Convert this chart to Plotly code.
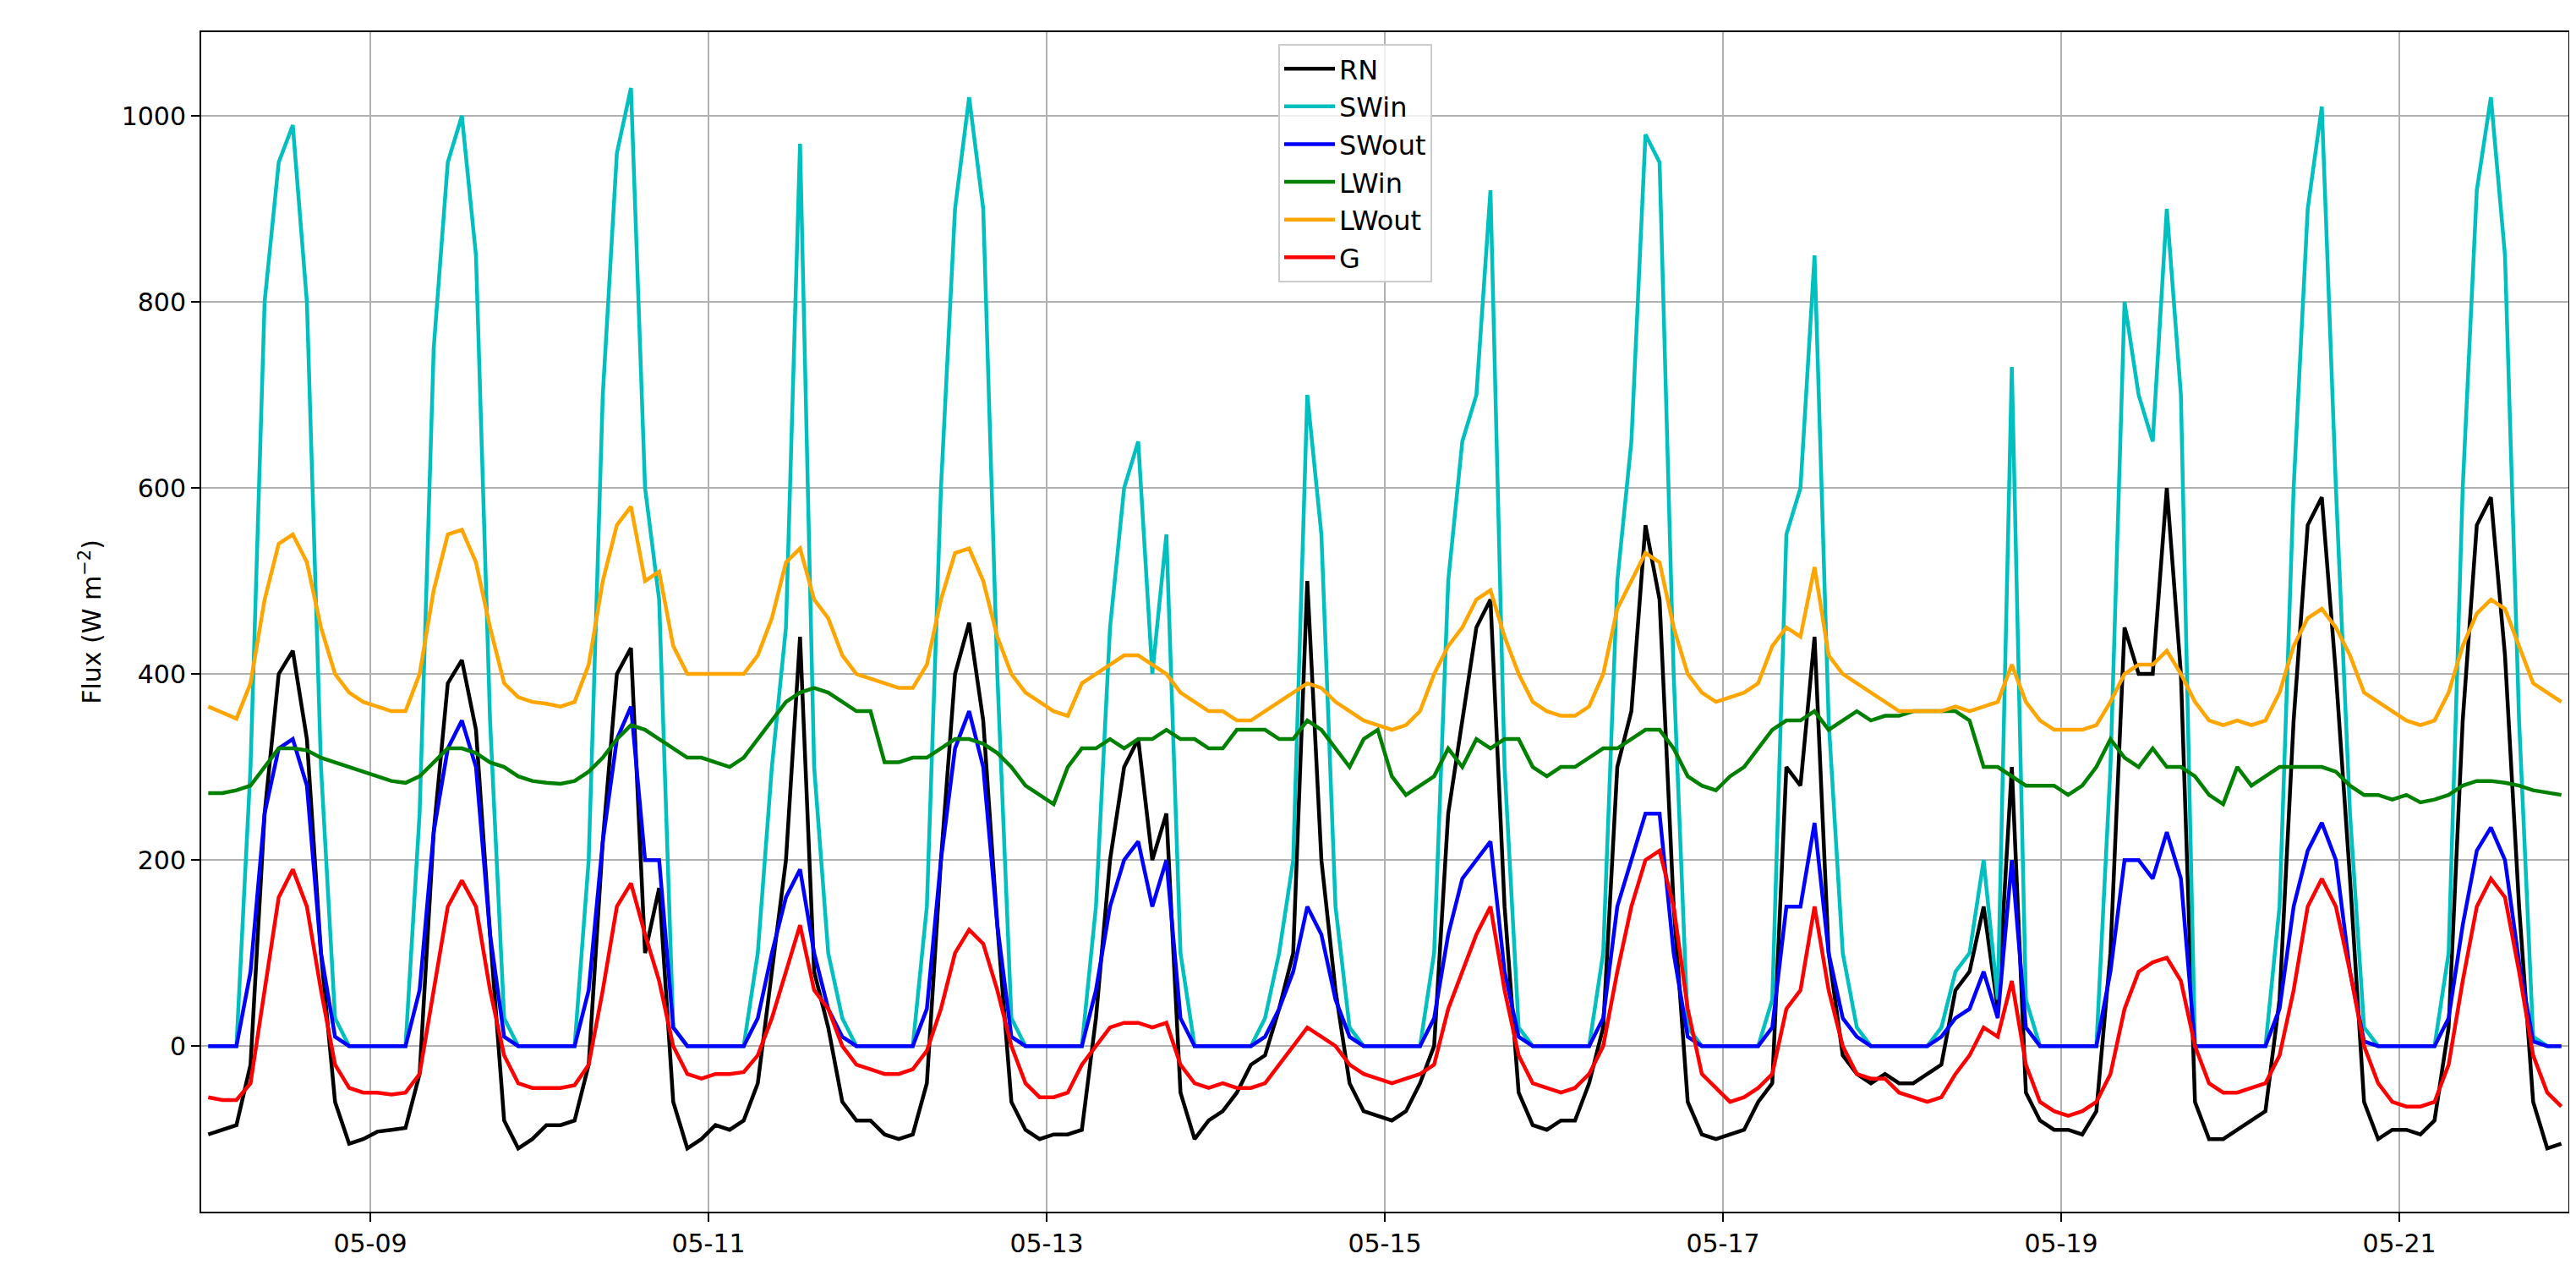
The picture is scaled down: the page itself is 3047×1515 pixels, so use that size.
import pandas as pd
import plotly.graph_objects as go

# 2-hourly samples (01,03,...,23h) from 05-08 to 05-21
SWin = [
 0,0,0,300,800,950,990,800,300,30,0,0,
 0,0,0,250,750,950,1000,850,350,30,0,0,
 0,0,0,200,700,960,1030,600,480,20,0,0,
 0,0,0,100,300,450,970,300,100,30,0,0,
 0,0,0,150,600,900,1020,900,400,30,0,0,
 0,0,0,150,450,600,650,400,550,100,0,0,
 0,0,0,30,100,200,700,550,150,20,0,0,
 0,0,0,100,500,650,700,920,300,20,0,0,
 0,0,0,100,500,650,980,950,400,20,0,0,
 0,0,0,50,550,600,850,350,100,20,0,0,
 0,0,0,20,80,100,200,50,730,50,0,0,
 0,0,0,300,800,700,650,900,700,0,0,0,
 0,0,0,150,600,900,1010,600,250,20,0,0,
 0,0,0,100,600,920,1020,850,350,10,0,0]
SWout = [
 0,0,0,80,250,320,330,280,100,10,0,0,
 0,0,0,60,230,320,350,300,120,10,0,0,
 0,0,0,60,220,330,365,200,200,20,0,0,
 0,0,0,30,100,160,190,100,40,10,0,0,
 0,0,0,40,200,320,360,300,130,10,0,0,
 0,0,0,60,150,200,220,150,200,30,0,0,
 0,0,0,10,40,80,150,120,50,10,0,0,
 0,0,0,30,120,180,200,220,80,10,0,0,
 0,0,0,30,150,200,250,250,100,10,0,0,
 0,0,0,20,150,150,240,100,30,10,0,0,
 0,0,0,10,30,40,80,30,200,20,0,0,
 0,0,0,80,200,200,180,230,180,0,0,0,
 0,0,0,40,150,210,240,200,80,5,0,0,
 0,0,0,30,130,210,235,200,90,5,0,0]
RN = [
 -95,-90,-85,-20,250,400,425,330,100,-60,-105,-100,
 -92,-90,-88,-30,230,390,415,340,120,-80,-110,-100,
 -85,-85,-80,-20,220,400,428,100,170,-60,-110,-100,
 -85,-90,-80,-40,80,200,440,80,20,-60,-80,-80,
 -95,-100,-95,-40,200,400,455,350,130,-60,-90,-100,
 -95,-95,-90,30,200,300,330,200,250,-50,-100,-80,
 -70,-50,-20,-10,40,100,500,200,60,-40,-70,-75,
 -80,-70,-40,0,250,350,450,480,150,-50,-85,-90,
 -80,-80,-40,20,300,360,560,480,150,-60,-95,-100,
 -95,-90,-60,-40,300,280,440,100,-10,-30,-40,-30,
 -40,-40,-30,-20,60,80,150,40,300,-50,-80,-90,
 -90,-95,-70,100,450,400,400,600,400,-60,-100,-100,
 -90,-80,-70,50,350,560,590,400,180,-60,-100,-90,
 -90,-95,-80,20,350,560,590,420,150,-60,-110,-105]
LWin = [
 272,272,275,280,300,320,320,318,310,305,300,295,
 290,285,283,290,305,320,320,315,305,300,290,285,
 283,282,285,295,310,330,345,340,330,320,310,310,
 305,300,310,330,350,370,380,385,380,370,360,360,
 305,305,310,310,320,330,330,325,315,300,280,270,
 260,300,320,320,330,320,330,330,340,330,330,320,
 320,340,340,340,330,330,350,340,320,300,330,340,
 290,270,280,290,320,300,330,320,330,330,300,290,
 300,300,310,320,320,330,340,340,320,290,280,275,
 290,300,320,340,350,350,360,340,350,360,350,355,
 355,360,360,360,360,350,300,300,290,280,280,280,
 270,280,300,330,310,300,320,300,300,290,270,260,
 300,280,290,300,300,300,300,295,280,270,270,265,
 270,262,265,270,280,285,285,283,280,275,272,270]
LWout = [
 365,358,352,390,480,540,550,520,450,400,380,370,
 365,360,360,400,490,550,555,520,450,390,375,370,
 368,365,370,410,500,560,580,500,510,430,400,400,
 400,400,400,420,460,520,535,480,460,420,400,395,
 390,385,385,410,480,530,535,500,440,400,380,370,
 360,355,390,400,410,420,420,410,400,380,370,360,
 360,350,350,360,370,380,390,385,370,360,350,345,
 340,345,360,400,430,450,480,490,440,400,370,360,
 355,355,365,400,470,500,530,520,450,400,380,370,
 375,380,390,430,450,440,515,420,400,390,380,370,
 360,360,360,360,365,360,365,370,410,370,350,340,
 340,340,345,370,400,410,410,425,400,370,350,345,
 350,345,350,380,430,460,470,450,420,380,370,360,
 350,345,350,380,430,465,480,470,430,390,380,370]
G = [
 -55,-58,-58,-40,60,160,190,150,60,-20,-45,-50,
 -50,-52,-50,-30,60,150,178,150,60,-10,-40,-45,
 -45,-45,-42,-20,60,150,175,120,70,0,-30,-35,
 -30,-30,-28,-10,30,80,130,60,40,0,-20,-25,
 -30,-30,-25,-5,40,100,125,110,60,0,-40,-55,
 -55,-50,-20,0,20,25,25,20,25,-20,-40,-45,
 -40,-45,-45,-40,-20,0,20,10,0,-20,-30,-35,
 -40,-35,-30,-20,40,80,120,150,60,-10,-40,-45,
 -50,-45,-30,0,80,150,200,210,150,40,-30,-45,
 -60,-55,-45,-30,40,60,150,60,0,-30,-35,-35,
 -50,-55,-60,-55,-30,-10,20,10,70,-20,-60,-70,
 -75,-70,-60,-30,40,80,90,95,70,0,-40,-50,
 -50,-45,-40,-10,60,150,180,150,80,0,-40,-60,
 -65,-65,-60,-20,70,150,180,160,80,-10,-50,-65]

t = pd.date_range("2023-05-08 01:00", periods=len(RN), freq="2h")
series = [("RN", RN, "black"), ("SWin", SWin, "#00bfbf"), ("SWout", SWout, "blue"),
          ("LWin", LWin, "green"), ("LWout", LWout, "orange"), ("G", G, "red")]

fig = go.Figure()
for name, vals, col in series:
    fig.add_trace(go.Scatter(x=t, y=vals, name=name, mode="lines",
                             line=dict(color=col, width=4.5)))

ax = dict(showline=True, linecolor="black", linewidth=2, mirror=True,
          showgrid=True, gridcolor="#b0b0b0", gridwidth=2, ticks="outside",
          ticklen=10, tickwidth=2, tickcolor="black", zeroline=False,
          tickfont=dict(size=30, color="black"))
fig.update_layout(
    width=3047, height=1515, paper_bgcolor="white", plot_bgcolor="white",
    font=dict(family="DejaVu Sans", size=30, color="black"),
    margin=dict(l=230, r=17, t=30, b=90),
    xaxis=dict(**ax, range=["2023-05-08", "2023-05-22"], tickformat="%m-%d",
               tick0="2023-05-09", dtick=2 * 86400000),
    yaxis=dict(**ax, range=[-178, 1090], dtick=200,
               title=dict(text="Flux (W m<sup>−2</sup>)", font=dict(size=30))),
    legend=dict(x=0.455, y=0.99, xanchor="left", yanchor="top",
                bgcolor="rgba(255,255,255,0.8)", bordercolor="#cccccc",
                borderwidth=2, font=dict(size=32), itemwidth=60,
                tracegroupgap=8),
)
fig.write_html("out.html")
